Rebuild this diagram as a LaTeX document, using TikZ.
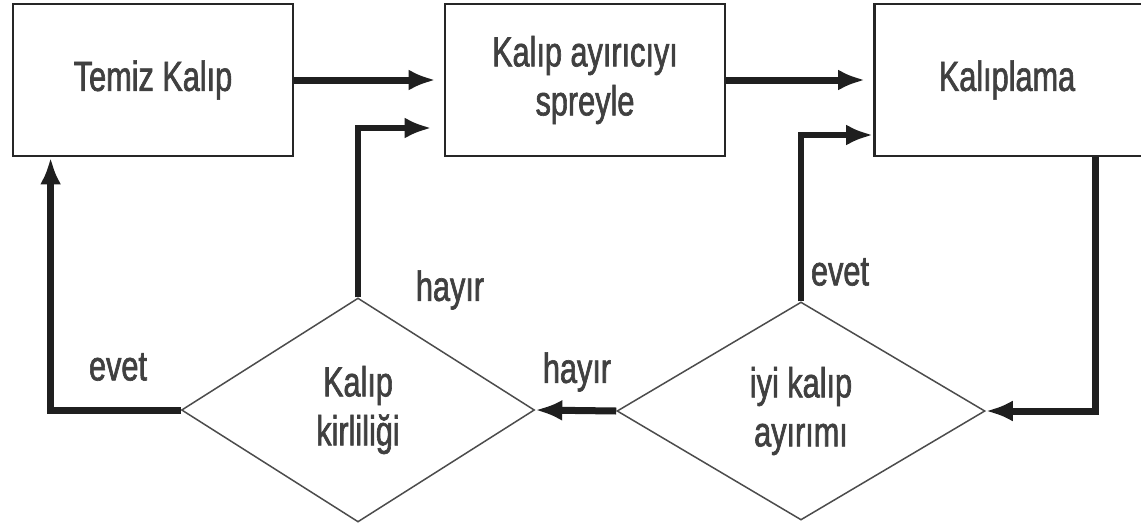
\documentclass[tikz,border=0pt]{standalone}
\usepackage{fontspec}
\setmainfont{Liberation Sans}[FakeStretch=0.73,FakeBold=1.5]
\usetikzlibrary{shapes.geometric,arrows.meta,calc}

\tikzset{
  txt/.style={text=black!75, font=\fontsize{42}{49}\selectfont, align=center},
  stepbox/.style={txt, draw=black!85, line width=2.8pt, rectangle, inner sep=0pt,
                  minimum width=280pt, minimum height=152pt},
  decision/.style={txt, draw=black!70, line width=1.5pt, diamond, inner sep=0pt, aspect=1.6},
  flow/.style={draw=black!88, line width=7pt,
               -{Latex[length=27pt,width=21pt]}},
  answer/.style={txt},
}

\begin{document}
\begin{tikzpicture}[x=1pt,y=-1pt]
  \useasboundingbox (0,0) rectangle (1141,528);
  \fill[white] (0,0) rectangle (1141,528);

  % process boxes
  \node[stepbox] (temiz)   at (153,80)  {Temiz Kalıp};
  \node[stepbox] (sprey)   at (585,80)  {Kalıp ayırıcıyı\\spreyle};
  \node[stepbox, minimum width=275pt] (kalip) at (1012,80) {\hspace*{-10pt}Kalıplama};

  % decisions
  \node[decision, minimum width=353pt, minimum height=224pt] (kirli) at (358,410) {Kalıp\\kirliliği};
  \node[decision, minimum width=368pt, minimum height=218pt] (iyi)   at (801,411) {iyi kalıp\\ayırımı};

  % main line
  \draw[flow, shorten >=8pt] (temiz.east) -- (sprey.west);
  \draw[flow, shorten >=8pt] (sprey.east) -- (kalip.west);
  \draw[flow] ($(kalip.south)+(83,0)$) |- (iyi.east);
  \draw[flow] (iyi.west) -- (kirli.east);

  % feedback lines
  \draw[flow, line width=5.5pt] (iyi.north) |- ($(kalip.west)+(0,55)$);
  \draw[flow, line width=5.5pt, shorten >=12pt] (kirli.north) |- ($(sprey.west)+(0,48)$);
  \draw[flow] (kirli.west) -| ($(temiz.south west)+(39,0)$);

  % answers
  \node[answer] (h1) at (450,290) {hayır};
  \node[answer] (e1) at (118,367) {evet};
  \node[answer] (h2) at (577,372) {hayır};
  \node[answer] (e2) at (840,272) {evet};
\end{tikzpicture}
\end{document}
